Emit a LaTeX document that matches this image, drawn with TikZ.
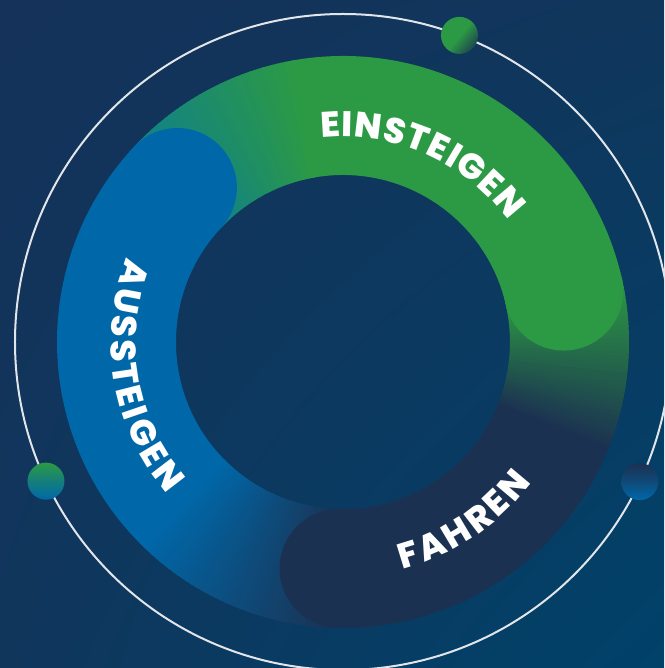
\documentclass[tikz,border=0pt]{standalone}
\usepackage{fontspec}
\usetikzlibrary{shadings}
\IfFontExistsTF{Poppins ExtraBold}
  {\newfontfamily\popfont{Poppins ExtraBold}\newcommand\popweight{}}
  {\newfontfamily\popfont{Poppins}\newcommand\popweight{\bfseries}}
\definecolor{cgreen}{HTML}{2C9A44}
\definecolor{cblue}{HTML}{0068A9}
\definecolor{cnavy}{HTML}{1B3151}
\definecolor{cteal}{HTML}{10808A}
\definecolor{bgA}{HTML}{14325A}
\definecolor{bgB}{HTML}{00426A}
\definecolor{bgC}{HTML}{10365C}
\definecolor{cline}{HTML}{E2E5EA}
\newdimen\chw
\newcommand\labfont{\popfont\popweight\fontsize{35.5}{36}\selectfont}
% annular sector
\newcommand\ringsect[3]{\fill[#3] (#1:167) arc[start angle=#1, end angle=#2, radius=167] -- (#2:286) arc[start angle=#2, end angle=#1, radius=286] -- cycle;}
% gradient sector: start angle, end angle, start colour, end colour, steps
\newcommand\gradsect[5]{%
  \foreach \j in {1,...,#5}{%
    \pgfmathsetmacro\rga{#1+(\j-1)*(#2-#1)/#5}%
    \pgfmathsetmacro\rgb{#1+\j*(#2-#1)/#5+sign(#2-#1)*0.4}%
    \pgfmathtruncatemacro\rgp{100*(\j-0.5)/#5}%
    \ringsect{\rga}{\rgb}{#4!\rgp!#3}%
  }}
% text on ring: name, radius, mid angle, sign (1 cw / -1 ccw), tracking, letters
\newcommand\ringtext[6]{%
  \gdef\rtw{0}%
  \foreach \ch in {#6}{%
    \edef\rcw{\csname rw\ch\endcsname}%
    \pgfmathsetmacro\rtmp{\rtw+\rcw+#5}%
    \xdef\rtw{\rtmp}%
  }%
  \pgfmathsetmacro\rtmp{\rtw-#5}\xdef\rtw{\rtmp}%
  \gdef\rpos{0}%
  \foreach \ch [count=\k] in {#6}{%
    \edef\rcw{\csname rw\ch\endcsname}%
    \pgfmathsetmacro\rang{#3+#4*(\rtw/2-\rpos-\rcw/2)/(#2)*180/pi}%
    \pgfmathsetmacro\rrot{\rang-#4*90}%
    \node[lbl,rotate=\rrot] (#1-\k) at (\rang:#2) {\ch};%
    \pgfmathsetmacro\rtmp{\rpos+\rcw+#5}\xdef\rpos{\rtmp}%
  }%
}
\begin{document}%
\foreach \ch in {A,E,F,G,H,I,N,R,S,T,U}{%
  \settowidth\chw{\labfont\ch}%
  \pgfmathsetmacro\rtmp{\chw}%
  \expandafter\xdef\csname rw\ch\endcsname{\rtmp}%
}%
\begin{tikzpicture}[x=1pt,y=1pt,
  lbl/.style={text=white, font=\labfont, inner sep=0pt, anchor=base},
  orbit/.style={draw=cline, line width=2}]
\useasboundingbox (-343,-326) rectangle (321,342);
\clip (-343,-326) rectangle (321,342);
\shade[upper left=bgA, upper right=bgC, lower left=bgC, lower right=bgB] (-343,-326) rectangle (321,342);
% orbit circle
\draw[orbit] (0,0) circle[radius=328];
% ring bodies
\gradsect{137}{100}{cteal}{cgreen}{40}
\ringsect{100.3}{13}{cgreen}
\gradsect{13}{-22}{cgreen}{cnavy}{40}
\ringsect{-21.7}{-91}{cnavy}
\gradsect{-91}{-135}{cnavy}{cblue}{40}
\ringsect{-134.7}{-223}{cblue}
% caps
\fill[cgreen] (13:226.5) circle[radius=59.5];
\fill[cnavy] (-91:226.5) circle[radius=59.5];
\fill[cblue] (137:226.5) circle[radius=59.5];
% dots
\shade[top color=cgreen, bottom color=cnavy!80!cgreen, middle color=cgreen, shading angle=50] (69.2:328) circle[radius=18.5];
\shade[top color=cgreen, bottom color=cblue, middle color=cblue!55!cgreen] (205.1:328) circle[radius=18.5];
\shade[top color=cnavy, bottom color=cblue, middle color=cnavy!55!cblue] (-25.2:328) circle[radius=18.5];
% labels
\ringtext{ein}{205}{66.2}{1}{1}{E,I,N,S,T,E,I,G,E,N}
\ringtext{aus}{232}{189.8}{-1}{3.3}{A,U,S,S,T,E,I,G,E,N}
\ringtext{fah}{235}{-56}{-1}{3}{F,A,H,R,E,N}
\end{tikzpicture}
\end{document}
